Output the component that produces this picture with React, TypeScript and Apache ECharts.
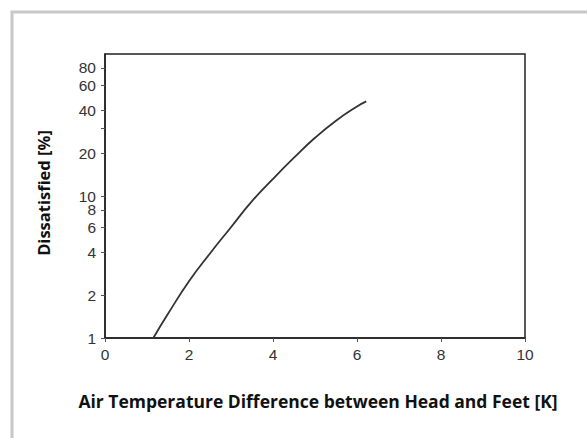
import React, { useEffect, useRef } from "react";
import * as echarts from "echarts";

const xValues = [1.15, 1.5, 2, 2.5, 3, 3.5, 4, 4.5, 5, 5.5, 6, 6.22];
const dissatisfied = [1, 1.48, 2.51, 3.94, 6.03, 9.2, 13.2, 18.6, 25.7, 33.9, 42.7, 46.4];
const xTicks = [0, 2, 4, 6, 8, 10];
// y-axis ticks (percent) and their labels (the 30 tick has no label)
const yTickValues = [1, 2, 4, 6, 8, 10, 20, 30, 40, 60, 80];
const yTickLabels = ["1", "2", "4", "6", "8", "10", "20", "", "40", "60", "80"];

const xTitle = "Air Temperature Difference between Head and Feet [K]";
const yTitle = "Dissatisfied [%]";

export default function App() {
  const ref = useRef<HTMLDivElement>(null);
  useEffect(() => {
    if (!ref.current) return;
    const chart = echarts.init(ref.current, null, { renderer: "svg" });
    const logTicks = yTickValues.map((v) => Math.log10(v));
    const labelFor = (v: number) => {
      let best = 0;
      let bd = Infinity;
      logTicks.forEach((t, i) => {
        const d = Math.abs(t - v);
        if (d < bd) {
          bd = d;
          best = i;
        }
      });
      return yTickLabels[best];
    };
    const tickFont = { fontFamily: "Liberation Sans", fontSize: 15.5, color: "#333" };
    const evenTicks = logTicks.filter((_, i) => i % 2 === 0);
    const oddTicks = logTicks.filter((_, i) => i % 2 === 1);
    const tickAxis = (vals: number[], showLine: boolean) => ({
      type: "value",
      min: 0,
      max: 2,
      position: "left",
      axisLine: { show: showLine, lineStyle: { color: "#222", width: 1.5 } },
      axisTick: {
        show: true,
        inside: false,
        length: 4,
        customValues: vals,
        lineStyle: { color: "#555", width: 1 },
      },
      axisLabel: {
        ...tickFont,
        margin: 9,
        lineHeight: 10,
        interval: 0,
        hideOverlap: false,
        showMaxLabel: true,
        showMinLabel: true,
        customValues: vals,
        formatter: (v: number) => labelFor(v),
      },
      splitLine: { show: false },
    });
    chart.setOption({
      animation: false,
      backgroundColor: "#fff",
      grid: {
        left: 105,
        top: 54,
        right: 62,
        bottom: 100,
        show: true,
        borderColor: "#222",
        borderWidth: 1.5,
        backgroundColor: "transparent",
      },
      graphic: [
        {
          type: "polyline",
          shape: { points: [[12, 438], [12, 12], [587, 12]] },
          style: { stroke: "#c8c8c8", lineWidth: 3, fill: "none" },
          silent: true,
        },
        {
          type: "text",
          x: 318,
          y: 401,
          style: {
            text: xTitle,
            fontFamily: "Open Sans",
            fontWeight: "bold",
            fontSize: 17.5,
            fill: "#111",
            align: "center",
            verticalAlign: "middle",
          },
        },
        {
          type: "text",
          x: 43,
          y: 193,
          rotation: Math.PI / 2,
          style: {
            text: yTitle,
            fontFamily: "Open Sans",
            fontWeight: "bold",
            fontSize: 16.5,
            fill: "#111",
            align: "center",
            verticalAlign: "middle",
          },
        },
      ],
      xAxis: {
        type: "value",
        min: 0,
        max: 10,
        interval: 2,
        axisLine: { show: true, lineStyle: { color: "#222", width: 1.5 } },
        axisTick: {
          show: true,
          inside: false,
          length: 4,
          customValues: xTicks,
          lineStyle: { color: "#555", width: 1 },
        },
        axisLabel: { ...tickFont, margin: 8, customValues: xTicks },
        splitLine: { show: false },
      },
      yAxis: [
        {
          type: "log",
          logBase: 10,
          min: 1,
          max: 100,
          show: false,
          splitLine: { show: false },
        },
        tickAxis(evenTicks, true),
        tickAxis(oddTicks, false),
      ],
      series: [
        {
          type: "line",
          yAxisIndex: 0,
          data: xValues.map((x, i) => [x, dissatisfied[i]]),
          smooth: true,
          showSymbol: false,
          lineStyle: { color: "#333", width: 1.8 },
        },
      ],
    });
    return () => chart.dispose();
  }, []);
  return (
    <div
      ref={ref}
      style={{ position: "absolute", left: 0, top: 0, width: 587, height: 438 }}
    />
  );
}
